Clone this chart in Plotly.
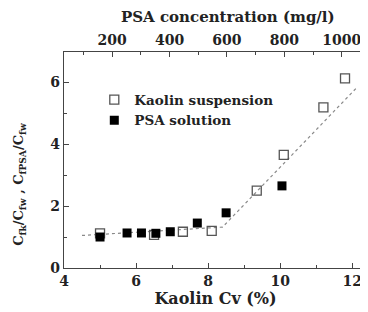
import plotly.graph_objects as go

# Data
kaolin_cv = [5.0, 6.5, 7.3, 8.1, 9.35, 10.1, 11.2, 11.8]
kaolin_ratio = [1.12, 1.07, 1.17, 1.2, 2.5, 3.65, 5.18, 6.12]

psa_cv = [5.0, 5.75, 6.15, 6.55, 6.95, 7.7, 8.5, 10.05]
psa_ratio = [1.0, 1.13, 1.13, 1.12, 1.17, 1.45, 1.78, 2.65]

fit_cv = [4.5, 7.6, 8.4, 12.15]
fit_ratio = [1.05, 1.25, 1.32, 5.85]

x_ticks = [4, 6, 8, 10, 12]
y_ticks = [0, 2, 4, 6]
top_ticks = [200, 400, 600, 800, 1000]

FONT = "DejaVu Serif"

fig = go.Figure()
fig.add_trace(go.Scatter(x=fit_cv, y=fit_ratio, mode="lines",
                         line=dict(color="#8a8a8a", width=1.2, dash="dot"),
                         showlegend=False, hoverinfo="skip"))
fig.add_trace(go.Scatter(x=kaolin_cv, y=kaolin_ratio, mode="markers",
                         name="Kaolin suspension",
                         marker=dict(symbol="square-open", size=9, color="#555555",
                                     line=dict(width=1.3, color="#555555"))))
fig.add_trace(go.Scatter(x=psa_cv, y=psa_ratio, mode="markers",
                         name="PSA solution",
                         marker=dict(symbol="square", size=9, color="black")))
# invisible trace to anchor the top axis
fig.add_trace(go.Scatter(x=top_ticks, y=[None]*len(top_ticks), xaxis="x2",
                         mode="markers", showlegend=False, hoverinfo="skip"))

tickfont = dict(family=FONT, size=14, color="#222222", weight="bold")

fig.update_layout(
    width=360, height=304,
    margin=dict(l=55.5, r=1, t=44.3, b=44.3),
    plot_bgcolor="white", paper_bgcolor="white",
    font=dict(family=FONT, color="#222222"),
    xaxis=dict(range=[4, 12.41], tickvals=x_ticks, ticks="inside", ticklen=5,
               tickcolor="#444", tickwidth=1.2,
               minor=dict(dtick=1, ticks="inside", ticklen=3, tickcolor="#444"),
               showline=True, linecolor="#444", linewidth=1.3, mirror=False,
               showgrid=False, zeroline=False, tickfont=tickfont,
               title=dict(text="Kaolin Cv (%)", font=dict(family=FONT, size=16, weight="bold"),
                          standoff=4)),
    xaxis2=dict(overlaying="x", side="top", range=[32.3, 1088], tickvals=top_ticks,
                ticks="inside", ticklen=5, tickcolor="#444", tickwidth=1.2,
                minor=dict(dtick=100, ticks="inside", ticklen=3, tickcolor="#444"),
                showline=True, linecolor="#444", linewidth=1.3, showgrid=False,
                zeroline=False, tickfont=tickfont),
    yaxis=dict(range=[0, 6.97], tickvals=y_ticks, ticks="inside", ticklen=5,
               tickcolor="#444", tickwidth=1.2,
               minor=dict(dtick=1, ticks="inside", ticklen=3, tickcolor="#444"),
               showline=True, linecolor="#444", linewidth=1.3, showgrid=False,
               zeroline=False, tickfont=tickfont),
    legend=dict(x=0.10, y=0.85, xanchor="left", yanchor="top",
                bgcolor="rgba(0,0,0,0)", font=dict(family=FONT, size=13.5, weight="bold"),
                itemwidth=30, tracegroupgap=0),
    annotations=[
        dict(text="C<sub>fk</sub>/C<sub>fw</sub> , C<sub>fPSA</sub>/C<sub>fw</sub>",
             xref="paper", yref="paper", x=-0.145, y=0.39, textangle=-90,
             showarrow=False, xanchor="center", yanchor="middle",
             font=dict(family=FONT, size=13, weight="bold", color="#222222")),
        dict(text="PSA concentration (mg/l)", xref="paper", yref="paper",
             x=0.542, y=1.1616, showarrow=False, xanchor="center", yanchor="middle",
             font=dict(family=FONT, size=15, weight="bold", color="#222222")),
    ],
)

fig.write_html("out.html")
